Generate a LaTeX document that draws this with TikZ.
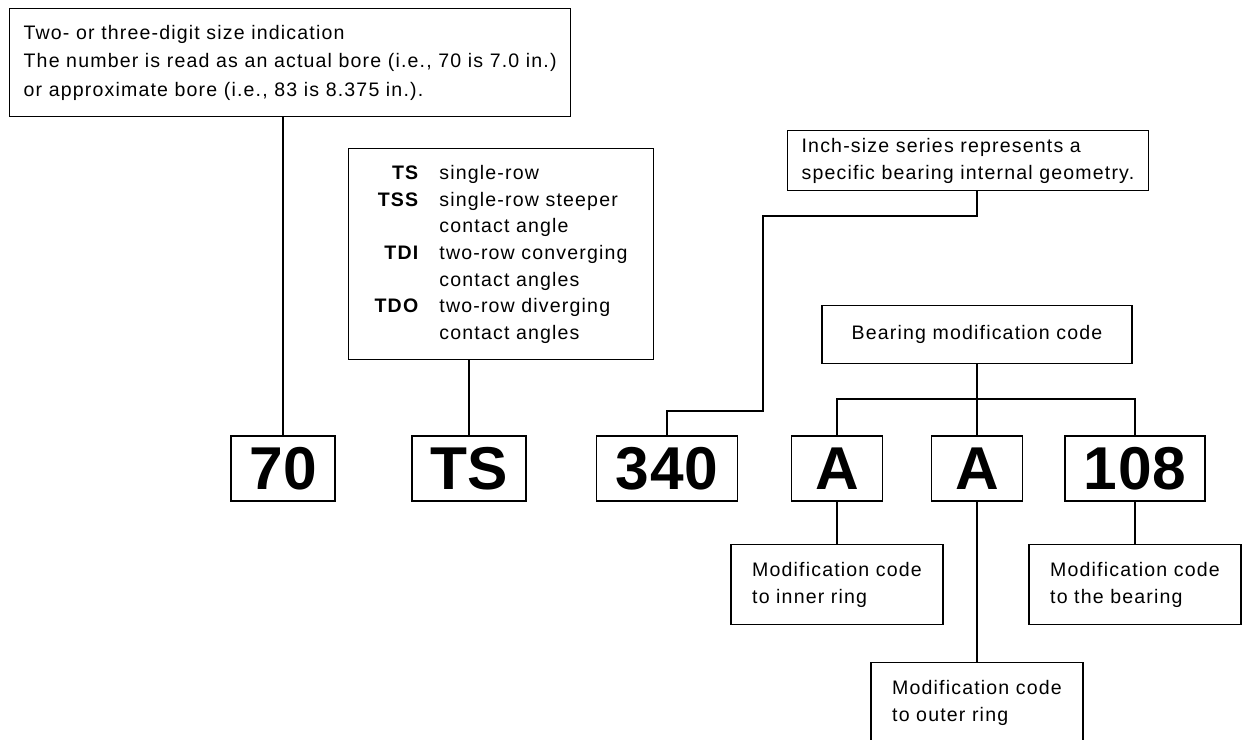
\documentclass[tikz,border=0pt]{standalone}
\usepackage{fontspec}
\setmainfont{Liberation Sans}[LetterSpace=6]
\usetikzlibrary{positioning}

\newlength\px
\setlength\px{0.025cm}
\newcommand\notefont{\fontsize{13.9pt}{19pt}\selectfont}
\newcommand\codefont{\fontsize{43pt}{43pt}\selectfont\bfseries\addfontfeature{LetterSpace=1}}

\begin{document}
\begin{tikzpicture}[
    x=0.025cm, y=-0.025cm,
    note/.style={draw, line width=0.9pt, align=left, font=\notefont, inner xsep=14\px},
    code/.style={draw, line width=0.9pt, minimum height=65\px, inner xsep=18\px, font=\codefont},
    link/.style={line width=0.9pt}
]
\useasboundingbox (0,0) rectangle (1243,740);

% --- Notes above ---
\node[note, anchor=north west, minimum height=108\px, font=\fontsize{13.9pt}{20.3pt}\selectfont] (size) at (9,8)
    {Two- or three-digit size indication\\
     The number is read as an actual bore (i.e., 70 is 7.0 in.)\\
     or approximate bore (i.e., 83 is 8.375 in.).};

\node[note, anchor=north west, minimum width=305\px, inner ysep=12\px] (types) at (348,148)
    {\begin{tabular}{@{}r@{\hspace{20\px}}l@{}}
     \textbf{TS}  & single-row\\
     \textbf{TSS} & single-row steeper\\
                  & contact angle\\
     \textbf{TDI} & two-row converging\\
                  & contact angles\\
     \textbf{TDO} & two-row diverging\\
                  & contact angles
     \end{tabular}};

\node[note, anchor=north west, minimum height=60\px] (series) at (787,130)
    {Inch-size series represents a\\specific bearing internal geometry.};

\node[note, anchor=north, minimum width=310\px, minimum height=58\px] (modcode) at (977,305)
    {Bearing modification code};

% --- Part number ---
\node[code, minimum width=102\px] (c70)  at (283,468.5) {70};
\node[code, minimum width=104\px] (cts)  at (469,468.5) {TS};
\node[code, minimum width=141\px] (c340) at (667,468.5) {340};
\node[code, minimum width=91\px]  (ca1)  at (837,468.5) {A};
\node[code, minimum width=91\px]  (ca2)  at (977,468.5) {A};
\node[code, minimum width=140\px] (c108) at (1135,468.5) {108};

% --- Notes below ---
\node[note, anchor=north, minimum width=212\px, minimum height=80\px] (inner) at (837,544)
    {Modification code\\to inner ring};
\node[note, anchor=north, minimum width=212\px, minimum height=80\px] (outer) at (977,662)
    {Modification code\\to outer ring};
\node[note, anchor=north, minimum width=212\px, minimum height=80\px] (bearing) at (1135,544)
    {Modification code\\to the bearing};

% --- Connectors ---
\coordinate (bendA) at (763,411);
\coordinate (bendB) at (977,216);
\coordinate (branch) at (837,399);

\draw[link] (c70.north) -- (c70.north |- size.south);
\draw[link] (cts.north) -- (cts.north |- types.south);
\draw[link] (c340.north) |- (bendA) |- (bendB) -- (bendB |- series.south);
\draw[link] (modcode.south) -- (ca2.north);
\draw[link] (ca1.north) |- (c108.north |- branch) -- (c108.north);
\draw[link] (ca1.south) -- (inner.north);
\draw[link] (ca2.south) -- (outer.north);
\draw[link] (c108.south) -- (bearing.north);

\end{tikzpicture}
\end{document}
